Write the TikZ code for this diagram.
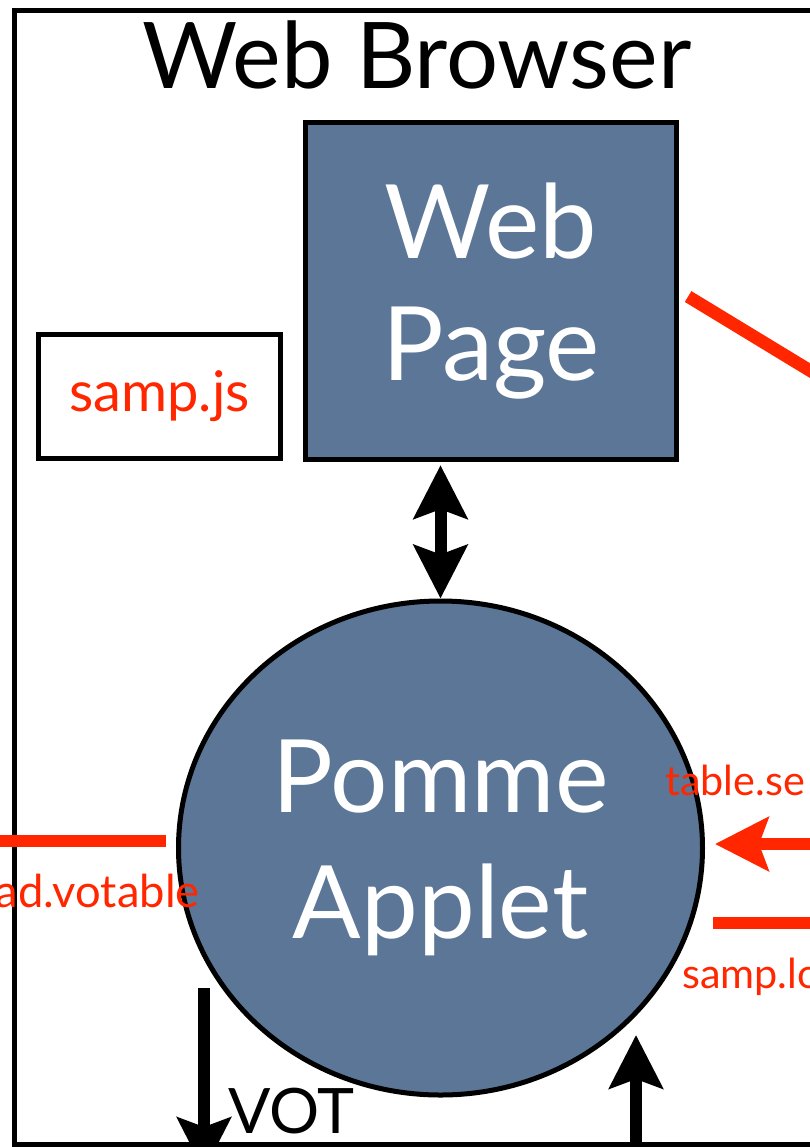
\documentclass[tikz,border=0pt]{standalone}
\usepackage{fontspec}
\setmainfont{Lato}
\usetikzlibrary{arrows.meta}
\usetikzlibrary{shapes.geometric}
\definecolor{slate}{RGB}{91,118,150}
\definecolor{sampred}{RGB}{255,38,0}
\tikzset{frame/.style={draw,line width=3.75pt,inner sep=0pt}}
\tikzset{panel/.style={frame,fill=slate,text=white,align=center}}

\begin{document}
\begin{tikzpicture}[x=0.75pt,y=-0.75pt,>={Stealth[length=40pt,width=40pt,inset=7pt]}]
    \tikzstyle{annot}=[text=sampred,font=\fontsize{31}{36}\selectfont,inner sep=0pt]
    \tikzstyle{wire}=[line width=9pt]
    \tikzstyle{redwire}=[line width=9.5pt,draw=sampred]

    \useasboundingbox (0,0) rectangle (810,1147);
    \clip (0,0) rectangle (810,1147);

    % browser frame and its parts
    \node[frame,minimum width=739.5pt,minimum height=850.5pt] (browser) at (507,577) {};
    \node[anchor=base,font=\fontsize{69}{80}\selectfont] (title) at (417,88) {Web Browser};
    \node[panel,minimum width=278.25pt,minimum height=252.75pt,
          font=\fontsize{77}{90}\selectfont] (page) at (491,291) {Web\\[1pt]Page};
    \node[frame,fill=white,minimum width=181.5pt,minimum height=93pt,text=sampred,
          font=\fontsize{42}{46}\selectfont] (sampjs) at (159.5,396.5) {samp.js};
    \node[panel,ellipse,minimum width=393pt,minimum height=370.5pt,
          font=\fontsize{76}{94}\selectfont] (applet) at (440.5,848) {Pomme\\Applet};

    \draw[wire,<->,shorten <=2.4pt] (applet.north |- page.south) -- (applet.north);

    % samp messages
    \coordinate (hubne) at (1000,486);
    \coordinate (hubw) at (-50,841);
    \coordinate (hube) at (1000,844);
    \coordinate (hubse) at (1000,923);
    \draw[redwire,shorten <=8pt] (page.east) -- (hubne);
    \draw[redwire,shorten >=7.5pt] (hubw) -- (hubw -| applet.west);
    \draw[redwire,->,shorten >=7.5pt] (hube) -- (hube -| applet.east);
    \draw[redwire,shorten >=6pt] (hubse) -- (hubse -| applet.east);
    \node[annot,anchor=base east,font=\fontsize{34}{40}\selectfont] (loadlbl) at (200,907) {ad.votable};
    \node[annot,anchor=base west] (setlbl) at (665,795) {table.se};
    \node[annot,anchor=base west] (loclbl) at (682,988) {samp.lo};

    % votable in and out
    \coordinate (votsrc) at (204,988);
    \coordinate (votdst) at (204,1171);
    \coordinate (retsrc) at (636,1200);
    \coordinate (rettip) at (636,1035);
    \draw[wire,->] (votsrc) -- (votdst);
    \draw[wire,->] (retsrc) -- (rettip);
    \node[anchor=base west,inner sep=0pt,font=\fontsize{47}{52}\selectfont] (vot) at (228,1133) {VOT};
\end{tikzpicture}
\end{document}
